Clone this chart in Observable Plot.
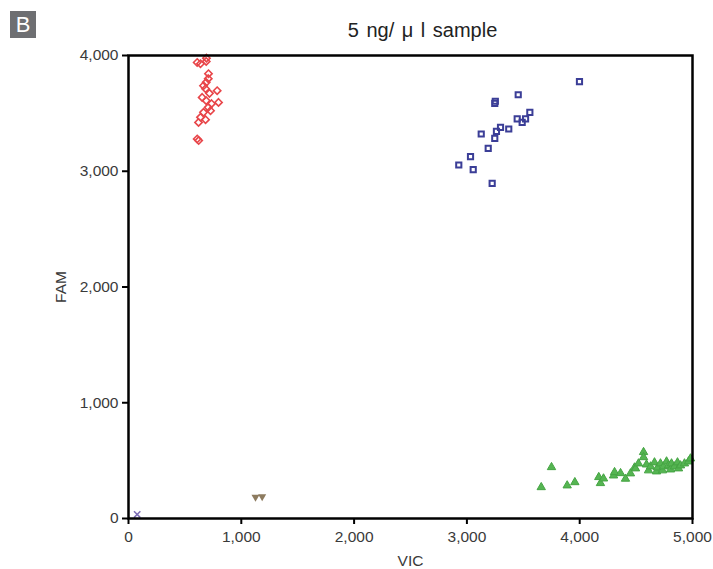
<!DOCTYPE html>
<html>
<head>
<meta charset="utf-8">
<script src="https://cdn.jsdelivr.net/npm/d3@7"></script>
<script src="https://cdn.jsdelivr.net/npm/@observablehq/plot@0.6"></script>
<style>
  body { margin: 0; background: #fff; }
  #wrap { position: relative; width: 713px; height: 569px; font-family: "Liberation Sans", Arial, sans-serif; }
  #badge { position: absolute; left: 10px; top: 11px; width: 26px; height: 27px; background: #6e6f72; color: #fff;
           font-size: 22px; line-height: 27px; text-align: center; font-family: "Liberation Sans", Arial, sans-serif; }
  #title { position: absolute; left: 0; width: 845px; top: 19px; text-align: center; font-size: 20px; color: #222; word-spacing: 2px; }
  #chart { position: absolute; left: 0; top: 0; }
</style>
</head>
<body>
<div id="wrap">
  <div id="chart"></div>
  <div id="badge">B</div>
  <div id="title">5 ng/ μ l sample</div>
</div>
<script>
// Cluster: FAM-positive (red)
const redVIC = [609, 638, 689, 691, 709, 707, 689, 665, 683, 718, 786, 653, 689, 798, 736, 707, 665, 727, 638, 683, 621, 609, 622];
const redFAM = [3940, 3929, 3949, 3977, 3843, 3800, 3768, 3739, 3713, 3673, 3696, 3638, 3610, 3595, 3584, 3552, 3509, 3523, 3466, 3446, 3422, 3279, 3265];
// Cluster: double-positive (blue)
const blueVIC = [3247, 3252, 3455, 3558, 3446, 3490, 3520, 3298, 3371, 3262, 3247, 3127, 3189, 3032, 2928, 3056, 3224, 3998];
const blueFAM = [3586, 3605, 3661, 3509, 3452, 3422, 3452, 3379, 3365, 3345, 3284, 3322, 3198, 3126, 3054, 3014, 2895, 3774];
// Cluster: VIC-positive (green)
const greenVIC = [3750, 3659, 3889, 3957, 4169, 4184, 4211, 4300, 4309, 4362, 4406, 4450, 4486, 4495, 4521, 4566, 4566,
                  4592, 4610, 4628, 4663, 4681, 4690, 4716, 4734, 4743, 4770, 4787, 4805, 4814, 4840, 4867, 4876, 4894, 4929, 4965, 4982];
const greenFAM = [443, 270, 285, 313, 357, 305, 345, 371, 400, 391, 343, 389, 440, 432, 475, 573, 529,
                  466, 415, 449, 484, 406, 440, 475, 415, 449, 492, 458, 423, 475, 449, 484, 432, 458, 475, 492, 518];
// Small clusters
const brownVIC = [1126, 1185];
const brownFAM = [184, 190];
const ntcVIC = [77];
const ntcFAM = [35];
// Axis ticks
const xTicks = [0, 1000, 2000, 3000, 4000, 5000];
const yTicks = [0, 1000, 2000, 3000, 4000];

const pts = (xs, ys) => xs.map((x, i) => ({x, y: ys[i]}));
const red = pts(redVIC, redFAM), blue = pts(blueVIC, blueFAM), green = pts(greenVIC, greenFAM),
      brown = pts(brownVIC, brownFAM), ntc = pts(ntcVIC, ntcFAM);

const chart = Plot.plot({
  width: 713,
  height: 569,
  marginLeft: 128,
  marginRight: 21,
  marginTop: 55,
  marginBottom: 51,
  style: {fontFamily: "Liberation Sans, Arial, sans-serif", fontSize: "15px", color: "#3a3a3a", background: "white"},
  x: {domain: [0, 5000]},
  y: {domain: [0, 4000]},
  marks: [
    Plot.axisX({ticks: xTicks, tickFormat: d3.format(","), tickSize: 6, tickPadding: 6, stroke: "black", strokeWidth: 2, fill: "#3a3a3a",
                fontSize: 15.5, label: "VIC", labelAnchor: "center", labelArrow: "none", labelOffset: 47}),
    Plot.axisY({ticks: yTicks, tickFormat: d3.format(","), tickSize: 6, tickPadding: 4, stroke: "black", strokeWidth: 2, fill: "#3a3a3a",
                fontSize: 15.5, label: "FAM", labelAnchor: "center", labelArrow: "none", labelOffset: 74}),
    Plot.dot(green, {x: "x", y: "y", symbol: "triangle", r: 3.1, fill: "#55b552", stroke: "#45a443", strokeWidth: 1}),
    Plot.dot(red, {x: "x", y: "y", symbol: "diamond2", r: 3.3, stroke: "#e8464a", strokeWidth: 1.6}),
    Plot.dot(blue, {x: "x", y: "y", symbol: "square2", r: 3.3, stroke: "#3b3e97", strokeWidth: 2}),
    Plot.dot(brown, {x: "x", y: "y", symbol: "triangle", rotate: 180, r: 3, fill: "#8d7b5f"}),
    Plot.dot(ntc, {x: "x", y: "y", symbol: "times", r: 3, stroke: "#7d6db5", strokeWidth: 1.5}),
    Plot.frame({stroke: "black", strokeWidth: 2.5})
  ]
});
document.getElementById("chart").appendChild(chart);
</script>
</body>
</html>
